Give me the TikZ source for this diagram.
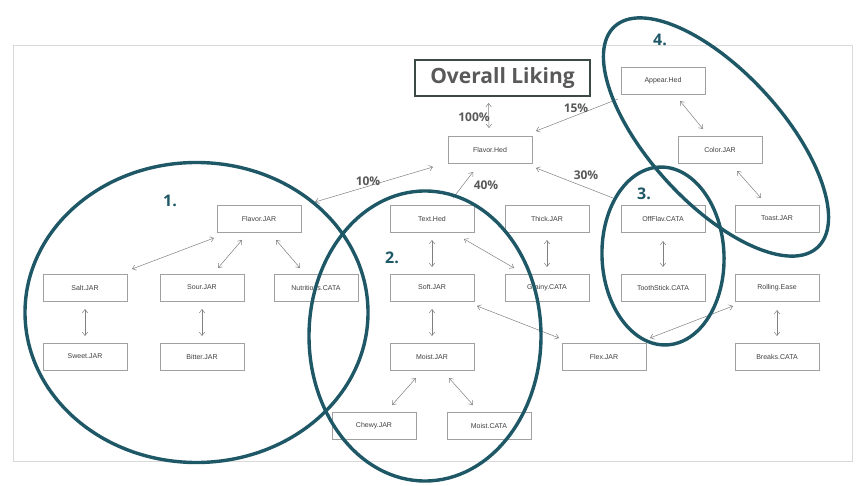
\documentclass[tikz,border=0pt]{standalone}
\usepackage{fontspec}
\setmainfont{Liberation Sans}
\newfontfamily\osans{Open Sans}
\usetikzlibrary{arrows.meta,calc}
\definecolor{tealring}{HTML}{1E5866}
\definecolor{boxline}{HTML}{A0A0A0}
\definecolor{arrgray}{HTML}{808080}
\definecolor{txtgray}{HTML}{404040}
\definecolor{lblgray}{HTML}{595959}
\definecolor{olbox}{HTML}{3B4A44}
\definecolor{framegray}{HTML}{D9D9D9}
\begin{document}
\begin{tikzpicture}[x=1pt,y=-1pt,
  box/.style={draw=boxline, line width=0.8pt, fill=white, minimum width=84pt, minimum height=27pt, inner sep=0pt, font=\fontsize{7}{8}\selectfont, text=txtgray},
  link/.style={draw=arrgray, line width=0.5pt, {Straight Barb[length=3.5pt,width=5.5pt]}-{Straight Barb[length=3.5pt,width=5.5pt]}},
  onelink/.style={draw=arrgray, line width=0.5pt, -{Straight Barb[length=3.5pt,width=5.5pt]}},
  pct/.style={font=\osans\bfseries\fontsize{12}{14}\selectfont, text=lblgray, inner sep=0pt},
  num/.style={font=\osans\bfseries\fontsize{16}{18}\selectfont, text=tealring, inner sep=0pt},
  ring/.style={draw=tealring, line width=3.4pt}]

\useasboundingbox (0,0) rectangle (867,486);
\draw[framegray, line width=0.8pt] (13,45) rectangle (852,461);

% title
\node[draw=olbox, line width=2pt, minimum width=175pt, minimum height=36pt, inner sep=0pt,
      font=\osans\bfseries\fontsize{21}{24}\selectfont, text=lblgray] (ol) at (502.5,78) {Overall Liking};

% nodes
\node[box] (ah) at (663,80.5) {Appear.Hed};
\node[box] (fh) at (490,149.5) {Flavor.Hed};
\node[box] (cj) at (720,149.5) {Color.JAR};
\node[box] (fj) at (259,218.5) {Flavor.JAR};
\node[box] (th) at (432,218.5) {Text.Hed};
\node[box] (tk) at (547,218.5) {Thick.JAR};
\node[box] (of) at (663,218.5) {OffFlav.CATA};
\node[box] (tj) at (777,218.5) {Toast.JAR};
\node[box] (salt) at (85,287.5) {Salt.JAR};
\node[box] (sour) at (202,287.5) {Sour.JAR};
\node[box] (nut) at (316,287.5) {Nutritious.CATA};
\node[box] (soft) at (432,287.5) {Soft.JAR};
\node[box] (gr) at (547,287.5) {Grainy.CATA};
\node[box] (ts) at (663,287.5) {ToothStick.CATA};
\node[box] (re) at (777,287.5) {Rolling.Ease};
\node[box] (sweet) at (85,356.5) {Sweet.JAR};
\node[box] (bitter) at (202,356.5) {Bitter.JAR};
\node[box] (mj) at (432,356.5) {Moist.JAR};
\node[box] (flex) at (604,356.5) {Flex.JAR};
\node[box] (bc) at (777,356.5) {Breaks.CATA};
\node[box] (chewy) at (374,425.5) {Chewy.JAR};
\node[box] (mc) at (489,425.5) {Moist.CATA};

% weighted connectors
\draw[link] ($(ol)+(-14,25)$) -- ($(fh)+(-1,-21.5)$);
\draw[onelink] ($(ah)+(-45,18.5)$) -- ($(fh)+(46,-18.5)$);
\draw[onelink] ($(of)+(-50,-20.5)$) -- ($(fh)+(46,18.5)$);
\draw[onelink] ($(th)+(21,-20.5)$) -- ($(fh)+(-17,22.5)$);
\draw[link] ($(fh)+(-57,17.5)$) -- ($(fj)+(56,-16.5)$);

\node[pct] (p100) at (474,117) {100\%};
\node[pct] (p15) at (576,108) {15\%};
\node[pct] (p30) at (586,175) {30\%};
\node[pct] (p40) at (486,185) {40\%};
\node[pct] (p10) at (368,181) {10\%};

% other connectors
\draw[link] ($(ah)+(17,20.5)$) -- ($(cj)+(-17,-20.5)$);
\draw[link] ($(cj)+(17,21.5)$) -- ($(tj)+(-16,-20.5)$);
\draw[link] ($(of)+(0,22.5)$) -- ($(ts)+(0,-20.5)$);
\draw[link] ($(flex)+(46,-18.5)$) -- ($(re)+(-44,18.5)$);
\draw[link] ($(re)+(0,22.5)$) -- ($(bc)+(0,-20.5)$);
\draw[link] ($(soft)+(45,18.5)$) -- ($(flex)+(-45,-18.5)$);
\draw[link] ($(th)+(0,21.5)$) -- ($(soft)+(0,-20.5)$);
\draw[link] ($(th)+(32,20.5)$) -- ($(gr)+(-33,-19.5)$);
\draw[link] ($(tk)+(0,21.5)$) -- ($(gr)+(0,-20.5)$);
\draw[link] ($(soft)+(0,21.5)$) -- ($(mj)+(0,-20.5)$);
\draw[link] ($(mj)+(-16,21.5)$) -- ($(chewy)+(18,-20.5)$);
\draw[link] ($(mj)+(17,21.5)$) -- ($(mc)+(-16,-20.5)$);
\draw[link] ($(fj)+(-45,19.5)$) -- ($(salt)+(47,-18.5)$);
\draw[link] ($(fj)+(-17,21.5)$) -- ($(sour)+(16,-19.5)$);
\draw[link] ($(fj)+(17,21.5)$) -- ($(nut)+(-16,-19.5)$);
\draw[link] ($(salt)+(0,21.5)$) -- ($(sweet)+(0,-20.5)$);
\draw[link] ($(sour)+(0,21.5)$) -- ($(bitter)+(0,-20.5)$);

% group rings
\draw[ring] (196.5,312.5) ellipse [x radius=171.5pt, y radius=150pt];
\draw[ring] (425,336) ellipse [x radius=116pt, y radius=145pt];
\draw[ring, rotate around={2.3:(663,256)}] (663,256) ellipse [x radius=61pt, y radius=89pt];
\draw[ring, rotate around={-47.4:(716,137)}] (716,137) ellipse [x radius=150pt, y radius=66pt];

\node[num] (n1) at (170,201) {1.};
\node[num] (n2) at (392,258) {2.};
\node[num] (n3) at (644,194) {3.};
\node[num] (n4) at (660,40) {4.};
\end{tikzpicture}
\end{document}
